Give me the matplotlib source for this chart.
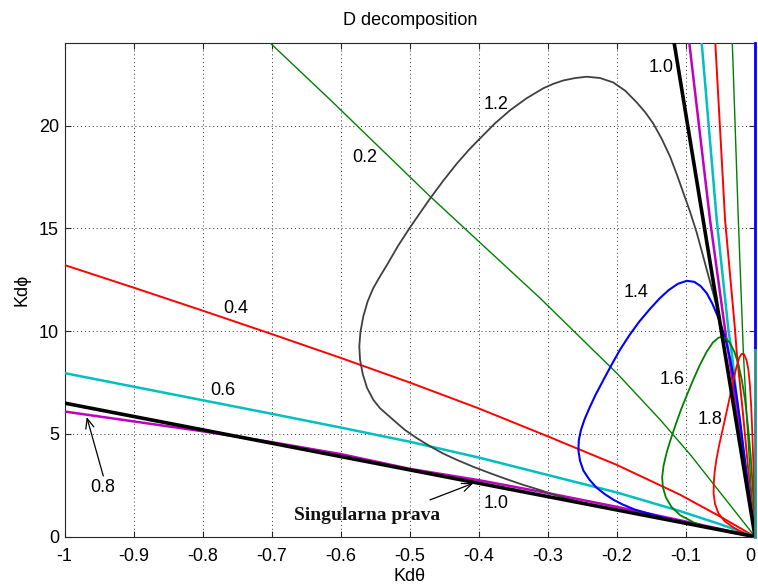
import matplotlib
matplotlib.use("Agg")
import matplotlib.pyplot as plt

plt.rcParams['font.family'] = ['Liberation Sans', 'DejaVu Sans']
plt.rcParams['axes.unicode_minus'] = False

# ---- D-decomposition boundary curves (Kd_theta, Kd_phi) for each parameter value ----
# 0.2 : left branch down to the origin, then the steep branch back up
kd_theta_02 = [-0.7014, -0.6155, -0.4707, -0.3114, -0.2, -0.1376, -0.094, -0.047, 0.0,
               -0.005, -0.0115, -0.0169, -0.0242, -0.0329]
kd_phi_02 = [24.0, 21.27, 16.56, 11.61, 7.95, 5.7, 4.0, 2.0, 0.0,
             2.0, 5.5, 8.95, 15.42, 24.0]

# 0.4
kd_theta_04 = [-1.0, -0.9, -0.8, -0.7, -0.6, -0.5, -0.4, -0.3, -0.2, -0.109, -0.05, 0.0,
               -0.008, -0.0175, -0.0265, -0.029, -0.0434, -0.0575]
kd_phi_04 = [13.22, 12.12, 11.0, 9.86, 8.7, 7.5, 6.24, 4.88, 3.49, 2.05, 0.97, 0.0,
             2.6, 6.0, 8.95, 10.07, 15.42, 24.0]

# 0.6
kd_theta_06 = [-1.0, -0.9, -0.8, -0.7, -0.6, -0.5, -0.4, -0.3, -0.2, -0.109, -0.05, 0.0,
               -0.012, -0.025, -0.0338, -0.0386, -0.0555, -0.0772]
kd_phi_06 = [7.96, 7.3, 6.64, 5.98, 5.31, 4.62, 3.85, 3.0, 2.15, 1.25, 0.6, 0.0,
             3.0, 6.3, 8.95, 10.07, 15.42, 24.0]

# 0.8
kd_theta_08 = [-1.0, -0.8, -0.7, -0.6, -0.5, -0.4, -0.3, -0.2, -0.109, -0.05, 0.0,
               -0.015, -0.030, -0.0434, -0.0652, -0.0951]
kd_phi_08 = [6.09, 5.13, 4.6, 4.02, 3.3, 2.75, 2.12, 1.45, 0.8, 0.37, 0.0,
             3.5, 7.0, 10.07, 15.42, 24.0]

# 1.0 : singular line and the steep branch
kd_theta_10 = [-1.0, 0.0, -0.117]
kd_phi_10 = [6.5, 0.0, 24.0]

# 1.2
kd_theta_12 = [0.0, -0.10, -0.2, -0.2534, -0.2872, -0.3114, -0.3356, -0.36, -0.3838, -0.408,
               -0.432, -0.452, -0.4707, -0.49, -0.5073, -0.5238, -0.5431, -0.5528, -0.562,
               -0.568, -0.572, -0.5731, -0.5715, -0.5673, -0.561, -0.5528, -0.5434, -0.5334,
               -0.517, -0.4996, -0.4852, -0.4707, -0.452, -0.432, -0.415, -0.3983, -0.377,
               -0.3548, -0.331, -0.3066, -0.2925, -0.2776, -0.26, -0.2437, -0.2245, -0.2052,
               -0.188, -0.1713, -0.159, -0.1473, -0.135, -0.1231, -0.1135, -0.1038, -0.094,
               -0.0845, -0.076, -0.0676, -0.061, -0.0555, -0.04, 0.0]
kd_phi_12 = [0.0, 0.65, 1.3, 1.68, 2.0, 2.27, 2.52, 2.8, 3.09, 3.4,
             3.74, 4.05, 4.4, 4.8, 5.2, 5.68, 6.25, 6.66, 7.25,
             7.9, 8.6, 9.25, 9.95, 10.72, 11.45, 12.1, 12.65, 13.2,
             14.15, 15.05, 15.75, 16.45, 17.3, 18.15, 18.8, 19.38, 20.1,
             20.75, 21.33, 21.82, 22.03, 22.2, 22.32, 22.38, 22.32, 22.1,
             21.7, 21.13, 20.65, 20.1, 19.35, 18.5, 17.65, 16.73, 15.8,
             14.8, 13.75, 12.7, 11.9, 11.2, 8.2, 0.0]

# 1.4
kd_theta_14 = [0.0, -0.03, -0.06, -0.085, -0.1086, -0.133, -0.1568, -0.175, -0.192, -0.2052,
               -0.218, -0.23, -0.24, -0.2486, -0.2535, -0.2558, -0.2552, -0.252, -0.247, -0.24,
               -0.231, -0.22, -0.208, -0.1955, -0.182, -0.168, -0.153, -0.138, -0.125, -0.112,
               -0.0989, -0.088, -0.079, -0.07, -0.062, -0.055, -0.0483, -0.042, -0.036, -0.031,
               -0.0265, -0.0215, -0.0169, -0.012, -0.0072, -0.003, 0.0]
kd_phi_14 = [0.0, 0.2, 0.4, 0.57, 0.74, 0.93, 1.15, 1.33, 1.57, 1.8,
             2.08, 2.4, 2.78, 3.22, 3.7, 4.2, 4.7, 5.2, 5.7, 6.25,
             6.9, 7.6, 8.35, 9.1, 9.8, 10.45, 11.05, 11.6, 12.0, 12.3,
             12.45, 12.4, 12.2, 11.85, 11.35, 10.8, 10.2, 9.5, 8.65, 7.75,
             6.8, 5.6, 4.3, 3.0, 1.8, 0.75, 0.0]

# 1.6
kd_theta_16 = [0.0, -0.03, -0.0652, -0.088, -0.1086, -0.121, -0.129, -0.1335, -0.1345, -0.1325,
               -0.128, -0.122, -0.115, -0.107, -0.098, -0.0893, -0.08, -0.07, -0.061, -0.053,
               -0.0483, -0.042, -0.0362, -0.03, -0.0242, -0.019, -0.0145, -0.01, -0.0065,
               -0.0035, -0.0012, 0.0]
kd_phi_16 = [0.0, 0.17, 0.42, 0.68, 1.05, 1.45, 1.9, 2.4, 2.9, 3.45,
             4.1, 4.75, 5.45, 6.2, 6.95, 7.65, 8.35, 9.0, 9.45, 9.68,
             9.72, 9.65, 9.42, 9.0, 8.4, 7.6, 6.65, 5.3, 4.0,
             2.5, 1.0, 0.0]

# 1.8
kd_theta_18 = [0.0, -0.015, -0.0314, -0.044, -0.0531, -0.058, -0.06, -0.0598, -0.0585, -0.056,
               -0.052, -0.047, -0.042, -0.0365, -0.0314, -0.027, -0.023, -0.0193, -0.016,
               -0.0125, -0.0097, -0.0075, -0.0055, -0.0038, -0.0022, -0.001, 0.0]
kd_phi_18 = [0.0, 0.15, 0.45, 0.75, 1.14, 1.6, 2.1, 2.6, 3.15, 3.75,
             4.45, 5.2, 5.95, 6.8, 7.6, 8.25, 8.7, 8.9, 8.88,
             8.6, 8.15, 7.4, 6.3, 4.9, 3.3, 1.7, 0.0]

# segments lying on the Kd_theta = 0 axis
kd_theta_axis = [0.0, 0.0]
kd_phi_axis_low = [0.0, 9.25]
kd_phi_axis_high = [9.25, 24.0]

curve_labels = ['0.2', '0.4', '0.6', '0.8', '1.0', '1.2', '1.4', '1.6', '1.8']

x_ticks = [-1.0, -0.9, -0.8, -0.7, -0.6, -0.5, -0.4, -0.3, -0.2, -0.1, 0.0]
x_tick_labels = ['-1', '-0.9', '-0.8', '-0.7', '-0.6', '-0.5', '-0.4', '-0.3', '-0.2', '-0.1', '0']
y_ticks = [0, 5, 10, 15, 20]
y_tick_labels = ['0', '5', '10', '15', '20']

# ---- figure ----
fig = plt.figure(figsize=(7.58, 5.85), dpi=100)
ax = fig.add_axes([0.0851, 0.0826, 0.911, 0.8431])

styles = [
    (kd_theta_02, kd_phi_02, '#008000', 1.0),
    (kd_theta_04, kd_phi_04, '#ff0000', 1.4),
    (kd_theta_06, kd_phi_06, '#00bfbf', 1.8),
    (kd_theta_08, kd_phi_08, '#bf00bf', 1.8),
    (kd_theta_12, kd_phi_12, '#404040', 1.3),
    (kd_theta_14, kd_phi_14, '#0000ff', 1.5),
    (kd_theta_16, kd_phi_16, '#008000', 1.3),
    (kd_theta_18, kd_phi_18, '#ff0000', 1.3),
    (kd_theta_10, kd_phi_10, '#000000', 2.6),
]
for xs, ys, col, lw in styles:
    ax.plot(xs, ys, color=col, lw=lw, solid_joinstyle='round', zorder=3)

ax.plot(kd_theta_axis, kd_phi_axis_low, color='#2a8f8f', lw=2.0, zorder=4, clip_on=False)
ax.plot(kd_theta_axis, kd_phi_axis_high, color='#0000ff', lw=2.0, zorder=4, clip_on=False)

ax.set_xlim(-1.0, 0.0)
ax.set_ylim(0, 24)
ax.set_xticks(x_ticks)
ax.set_xticklabels(x_tick_labels)
ax.set_yticks(y_ticks)
ax.set_yticklabels(y_tick_labels)
# keep the last tick label inside the figure
ax.get_xticklabels()[-1].set_horizontalalignment('right')

ax.grid(True, color='#303030', linestyle=(0, (1, 3)), lw=0.7)
ax.tick_params(direction='in', length=4, width=0.8, top=True, right=True,
               labelsize=13, colors='#262626', labelcolor='black')
ax.tick_params(axis='x', pad=8)
ax.tick_params(axis='y', pad=4)
for s in ax.spines.values():
    s.set_color('#262626')
    s.set_linewidth(0.8)

ax.set_title('D decomposition', fontsize=13, pad=13)
ax.set_xlabel('Kd\u03b8', fontsize=13, labelpad=2)
ax.set_ylabel('Kd\u03d5', fontsize=13, labelpad=6)

# curve labels
label_pos = {
    '0.2': (-0.5648, 18.43), '0.4': (-0.7519, 11.08), '0.6': (-0.7704, 7.11),
    '0.8': (-0.9447, 2.40), '1.2': (-0.3754, 21.03), '1.4': (-0.1719, 11.86),
    '1.6': (-0.1199, 7.67), '1.8': (-0.0652, 5.72),
}
for lab in curve_labels:
    if lab in label_pos:
        x, y = label_pos[lab]
        ax.text(x, y, lab, fontsize=13, ha='center', va='center', zorder=6)
ax.text(-0.1364, 22.81, curve_labels[4], fontsize=13, ha='center', va='center', zorder=6)
ax.text(-0.3754, 1.62, curve_labels[4], fontsize=13, ha='center', va='center', zorder=6)

arrow = dict(arrowstyle='->,head_length=0.7,head_width=0.3', color='black', lw=0.9,
             shrinkA=0, shrinkB=0)
ax.annotate('', xy=(-0.9678, 5.82), xytext=(-0.9438, 2.95), arrowprops=arrow, zorder=6)
ax.annotate('', xy=(-0.408, 2.6), xytext=(-0.4707, 1.79), arrowprops=arrow, zorder=6)

ax.text(-0.5616, 1.05, 'Singularna prava', family='Liberation Serif', fontweight='bold',
        fontsize=14, color='#111111', ha='center', va='center', zorder=6)

fig.savefig('out.png', dpi=100)
